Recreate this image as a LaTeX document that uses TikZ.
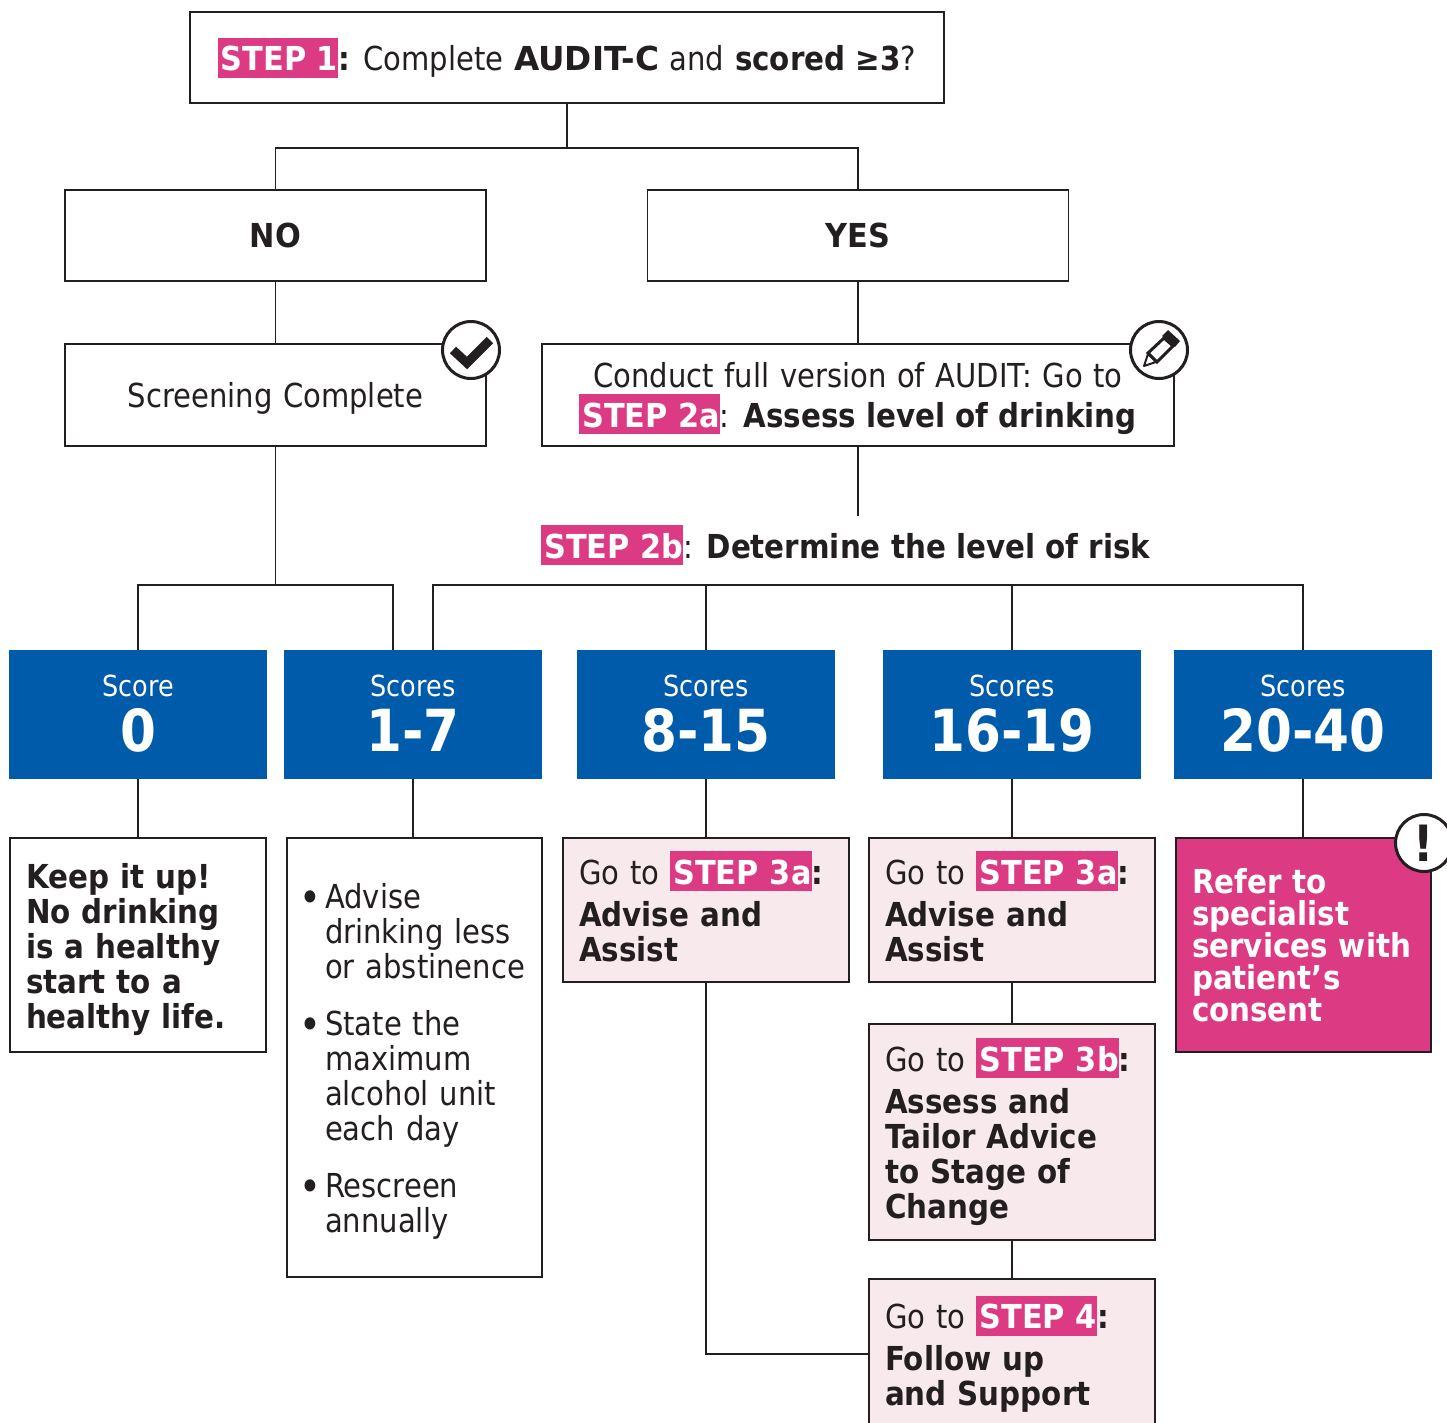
\documentclass[tikz,border=0pt]{standalone}
\usepackage{fontspec}
\setmainfont{DejaVu Sans}[FakeStretch=0.88,WordSpace=1.15,BoldFeatures={FakeStretch=0.89,WordSpace=1}]
\newfontface\capsbold{DejaVu Sans Bold}[FakeStretch=0.92]
\newfontface\auditbold{DejaVu Sans Bold}[FakeStretch=0.99]

\definecolor{stepmag}{HTML}{DC3A82}
\definecolor{scoreblue}{HTML}{005BAA}
\definecolor{softpink}{HTML}{F8E9ED}
\definecolor{inkgrey}{HTML}{231F20}

\newcommand{\steptag}[1]{{\setlength{\fboxsep}{0pt}\colorbox{stepmag}{\rule[-7pt]{0pt}{40pt}\kern3pt\textcolor{white}{\capsbold #1}}}}
\newcommand{\itemline}{\makebox[22pt][l]{\kern-4pt\raisebox{-3.5pt}{\fontsize{42}{35}\selectfont •}}}
\newcommand{\contline}{\makebox[22pt][l]{}}
\newcommand{\pushdown}[1]{\rule{0pt}{#1}}

\tikzset{
	box/.style={draw=inkgrey, line width=1.2pt, fill=white, inner sep=0pt, text=inkgrey, align=center, font=\fontsize{33}{35}\selectfont},
	leftbox/.style={box, align=left, inner xsep=16pt},
	pinkbox/.style={leftbox, fill=softpink, text width=254pt, minimum width=286pt},
	scorebox/.style={fill=scoreblue, text=white, align=center, inner sep=0pt, minimum width=258pt, minimum height=129pt},
	link/.style={draw=inkgrey, line width=1.2pt},
	badge/.style={circle, draw=inkgrey, line width=3pt, fill=white, minimum size=57pt, inner sep=0pt, text=inkgrey}
}

\begin{document}
\begin{tikzpicture}[x=1pt,y=-1pt]
	\useasboundingbox (0,0) rectangle (1447,1422);
	\clip (0,0) rectangle (1447,1422);

	%top boxes
	\node [box, minimum width=754pt, minimum height=91pt] (step1) at (567,57.5)
		{\steptag{STEP 1}\textbf{:} Complete {\auditbold AUDIT-C} and \textbf{scored ≥3}?};
	\node [box, minimum width=421pt, minimum height=91pt] (no) at (275.5,235.5) {\capsbold NO};
	\node [box, minimum width=421pt, minimum height=91pt] (yes) at (858,235.5) {\capsbold YES};
	\node [box, minimum width=421pt, minimum height=102pt] (screen) at (275.5,395) {\pushdown{32pt}Screening Complete};
	\node [box, minimum width=632pt, minimum height=102pt] (audit) at (858,395)
		{\pushdown{32pt}Conduct full version of AUDIT: Go to\\[5pt]\steptag{STEP 2a}: \textbf{Assess level of drinking}};
	\node [text=inkgrey, inner sep=0pt, font=\fontsize{33}{35}\selectfont] (riskhead) at (846,545)
		{\steptag{STEP 2b}: \textbf{Determine the level of risk}};

	%score boxes
	\foreach \name/\cx/\word/\range in {
		score0/138/Score/0,
		score7/413/Scores/1-7,
		score15/706/Scores/8-15,
		score19/1012/Scores/16-19,
		score40/1303/Scores/20-40
	}\node [scorebox] (\name) at (\cx,714.5)
		{\fontsize{29}{30}\selectfont \word\\[11pt]\fontsize{58}{52}\selectfont\bfseries \rule[-3pt]{0pt}{0pt}\range};

	%advice boxes
	\node [leftbox, text width=224pt, minimum width=256pt, minimum height=214pt] (keep) at (138,945)
		{\pushdown{35pt}\textbf{Keep it up!\\No drinking\\is a healthy\\start to a\\healthy life.}};
	\node [leftbox, text width=223pt, minimum width=255pt, minimum height=439pt] (advise) at (414.5,1057.5)
		{\pushdown{33pt}\itemline Advise\\\contline drinking less\\\contline or abstinence\\[22pt]
		\itemline State the\\\contline maximum\\\contline alcohol unit\\\contline each day\\[22pt]
		\itemline Rescreen\\\contline annually};
	\node [pinkbox, minimum height=144pt] (assist) at (706,910)
		{Go to \steptag{STEP 3a}\textbf{:}\\[7pt]\textbf{Advise and\\Assist}\rule[-8pt]{0pt}{0pt}};
	\node [pinkbox, minimum height=144pt] (assistb) at (1012,910)
		{Go to \steptag{STEP 3a}\textbf{:}\\[7pt]\textbf{Advise and\\Assist}\rule[-8pt]{0pt}{0pt}};
	\node [pinkbox, minimum height=216pt] (tailor) at (1012,1132)
		{Go to \steptag{STEP 3b}\textbf{:}\\[7pt]\textbf{Assess and\\Tailor Advice\\to Stage of\\Change}};
	\node [pinkbox, minimum height=150pt] (follow) at (1012,1354)
		{Go to \steptag{STEP 4}\textbf{:}\\[7pt]\textbf{Follow up\\and Support}};
	\node [leftbox, fill=stepmag, text=white, text width=223pt, minimum width=255pt, minimum height=214pt, font=\fontsize{33}{32}\selectfont] (refer) at (1303.5,945)
		{\textbf{Refer to\\specialist\\services with\\patient’s\\consent}};

	%bus points
	\coordinate (splittop) at (567,148);
	\coordinate (splitno) at (275.5,585);
	\coordinate (splityes) at (1012,585);
	\coordinate (riskend) at (858,516);

	%paths
	\draw [link] (step1.south) -- (splittop);
	\draw [link] (no.north) |- (splittop) -| (yes.north);
	\draw [link] (no) -- (screen);
	\draw [link] (yes) -- (audit);
	\draw [link] (audit.south) -- (riskend);
	\draw [link] (screen.south) -- (splitno);
	\draw [link] (score0.north) |- (splitno) -| ([xshift=-20pt]score7.north);
	\draw [link] ([xshift=20pt]score7.north) |- (splityes) -| (score40.north);
	\draw [link] (score15.north) -- (score15.north |- splityes);
	\draw [link] (score19.north) -- (splityes);
	\draw [link] (score0.south) -- (score0.south |- keep.north);
	\draw [link] (score7.south) -- (score7.south |- advise.north);
	\draw [link] (score15.south) -- (assist.north);
	\draw [link] (score19.south) -- (assistb.north);
	\draw [link] (score40.south) -- (score40.south |- refer.north);
	\draw [link] (assistb) -- (tailor);
	\draw [link] (tailor) -- (follow);
	\draw [link] (assist.south) |- (follow.west);

	%badges
	\node [badge] (donebadge) at (471,350) {};
	\draw [draw=inkgrey, line width=9pt] (453,350) -- (467,363) -- (490,340);
	\node [badge] (penbadge) at (1159,350) {};
	\fill [inkgrey] (1168,330) -- (1180,341) -- (1175,347) -- (1162,336) -- cycle;
	\draw [draw=inkgrey, line width=3pt, fill=white] (1164,338) -- (1173,346) -- (1157,362) -- (1148,353) -- cycle;
	\draw [draw=inkgrey, line width=2pt, fill=white, line join=round] (1148,354) -- (1156,362) -- (1144,366) -- cycle;
	\node [badge, font=\fontsize{50}{50}\selectfont\bfseries] (warnbadge) at (1424,843) {!};

\end{tikzpicture}
\end{document}
